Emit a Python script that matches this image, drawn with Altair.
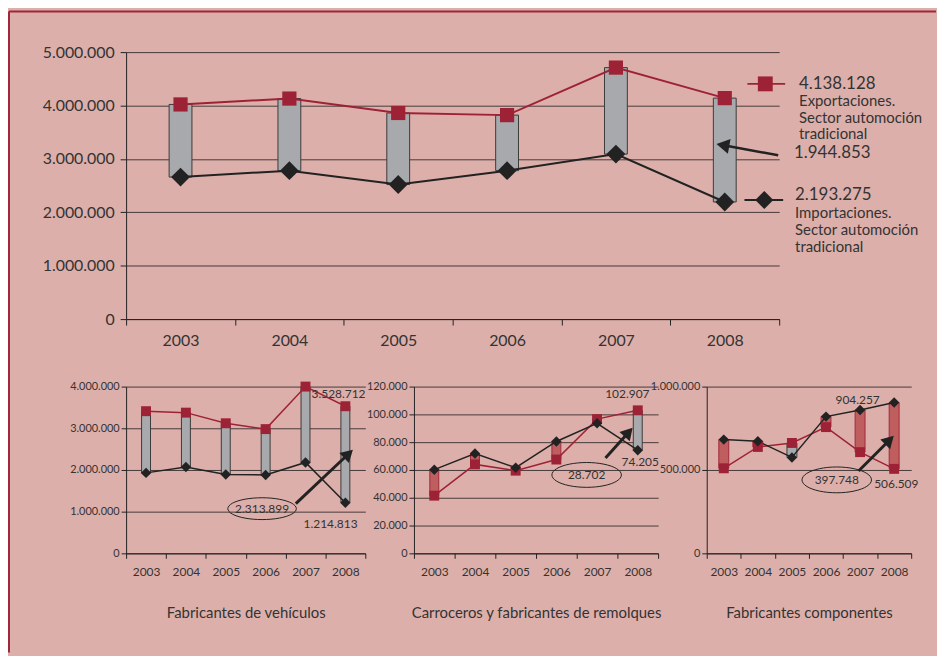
import math
import altair as alt
import pandas as pd

# ---------------- data ----------------
years = ["2003", "2004", "2005", "2006", "2007", "2008"]

total_exp = [4020000, 4130000, 3860000, 3820000, 4710000, 4138128]
total_imp = [2660000, 2780000, 2520000, 2780000, 3090000, 2193275]

veh_exp = [3410000, 3375000, 3120000, 2980000, 4000000, 3528712]
veh_imp = [1930000, 2070000, 1890000, 1880000, 2180000, 1214813]

car_exp = [41500, 64000, 59500, 67500, 96600, 102907]
car_imp = [60200, 71800, 61600, 80500, 93600, 74205]

comp_exp = [510000, 638000, 662000, 757000, 607000, 506509]
comp_imp = [682000, 672000, 575000, 820000, 860000, 904257]

panel_titles = ["Fabricantes de vehículos",
                "Carroceros y fabricantes de remolques",
                "Fabricantes componentes"]
legend_exp = ["Exportaciones.", "Sector automoción", "tradicional"]
legend_imp = ["Importaciones.", "Sector automoción", "tradicional"]

main_ticks = [0, 1000000, 2000000, 3000000, 4000000, 5000000]
veh_ticks = [0, 1000000, 2000000, 3000000, 4000000]
car_ticks = [0, 20000, 40000, 60000, 80000, 100000, 120000]
comp_ticks = [0, 500000, 1000000]

# ---------------- style ----------------
BG = "#DDAFAA"
FRAME = "#A0263A"
RED = "#9E2236"
ROSE = "#BE5E5E"
ROSE_EDGE = "#A3283A"
GRAY = "#A7A9AC"
GRAY_EDGE = "#3a3a3a"
DARK = "#222222"
TXT = "#333333"
GRID = "#463a3a"
SANS = "Lato"
DOTS = "replace(format(datum.value, ','), /,/g, '.')"

ONE = pd.DataFrame({"k": [0]})


def fmt(v):
    return f"{v:,}".replace(",", ".")


def text_layer(label, x, y, size, align="center"):
    return alt.Chart(pd.DataFrame({"t": [label]})).mark_text(
        font=SANS, fontSize=size, color=TXT, align=align, baseline="middle"
    ).encode(x=alt.value(x), y=alt.value(y), text="t:N")


def rule_layer(x1, y1, x2, y2, color, width):
    return alt.Chart(ONE).mark_rule(color=color, strokeWidth=width, strokeCap="butt").encode(
        x=alt.value(x1), y=alt.value(y1), x2=alt.value(x2), y2=alt.value(y2))


def symbol_layer(x, y, shape, size, color, angle=0, filled=True, sw=1):
    return alt.Chart(ONE).mark_point(
        shape=shape, size=size, filled=filled, color=color, opacity=1,
        angle=angle, strokeWidth=sw
    ).encode(x=alt.value(x), y=alt.value(y))


def arrow_layers(x1, y1, x2, y2, width, head):
    dx, dy = x2 - x1, y2 - y1
    ln = math.hypot(dx, dy)
    ux, uy = dx / ln, dy / ln
    h = head * math.sqrt(3) / 4
    cx, cy = x2 - ux * h, y2 - uy * h
    ang = math.degrees(math.atan2(dx, -dy)) % 360
    return [rule_layer(x1, y1, cx, cy, DARK, width),
            symbol_layer(cx, cy, "triangle", head * head, DARK, angle=ang)]


def ellipse_layers(cx, cy, w, h, label):
    ry = h / w
    pts = []
    for k in range(48):
        a = 2 * math.pi * k / 48
        pts.append(f"{math.cos(a):.4f},{ry * math.sin(a):.4f}")
    path = "M" + "L".join(pts) + "Z"
    return [symbol_layer(cx, cy, path, w * w, DARK, filled=False, sw=1),
            text_layer(label, cx, cy, 12)]


def data_layers(exp, imp, ymax, xaxis, yaxis, bar_size, sq, di, lw):
    df = pd.DataFrame({"year": years, "exp": exp, "imp": imp})
    df["fill"] = [GRAY if e >= i else ROSE for e, i in zip(exp, imp)]
    df["edge"] = [GRAY_EDGE if e >= i else ROSE_EDGE for e, i in zip(exp, imp)]
    x = alt.X("year:N", sort=years,
              scale=alt.Scale(paddingInner=0, paddingOuter=0), axis=xaxis)
    ysc = alt.Scale(domain=[0, ymax], nice=False, zero=True)
    y_imp = alt.Y("imp:Q", scale=ysc, axis=yaxis)
    y_exp = alt.Y("exp:Q", scale=ysc, axis=yaxis)
    base = alt.Chart(df)
    bars = base.mark_bar(size=bar_size, strokeWidth=1).encode(
        x=x, y=y_imp, y2="exp:Q",
        fill=alt.Fill("fill:N", scale=None),
        stroke=alt.Stroke("edge:N", scale=None))
    exp_line = base.mark_line(color=RED, strokeWidth=lw).encode(x=x, y=y_exp)
    imp_line = base.mark_line(color=DARK, strokeWidth=lw).encode(x=x, y=y_imp)
    exp_pts = base.mark_point(shape="square", filled=True, size=sq, color=RED,
                              opacity=1).encode(x=x, y=y_exp)
    imp_pts = base.mark_point(shape="diamond", filled=True, size=di, color=DARK,
                              opacity=1).encode(x=x, y=y_imp)
    return [bars, exp_line, imp_line, exp_pts, imp_pts]


# ---------------- main chart ----------------
main_x = alt.Axis(title=None, labelFont=SANS, labelFontSize=16, labelColor=TXT,
                  labelPadding=8, tickSize=6, tickColor=DARK, tickBand="extent",
                  domainColor=DARK, grid=False, labelAngle=0)
main_y = alt.Axis(title=None, values=main_ticks, labelExpr=DOTS, labelFont=SANS,
                  labelFontSize=16, labelColor=TXT, labelPadding=6, tickSize=6,
                  tickColor=DARK, domainColor=DARK, grid=True, gridColor=GRID,
                  gridWidth=1, labelOverlap=False)

main_layers = data_layers(total_exp, total_imp, 5000000, main_x, main_y, 23, 205, 361, 2)
main_layers += [
    # frame
    rule_layer(-118, -41, 816, -41, FRAME, 2),
    rule_layer(-118, -41, -118, 605, FRAME, 2),
    # legend
    rule_layer(626, 32, 664, 32, RED, 2),
    symbol_layer(644, 32, "square", 225, RED),
    rule_layer(623, 149, 662, 149, DARK, 2),
    symbol_layer(643, 149, "diamond", 330, DARK),
    text_layer(fmt(total_exp[-1]), 678, 32, 17, align="left"),
    text_layer(legend_exp[0], 678, 49, 15, align="left"),
    text_layer(legend_exp[1], 678, 66, 15, align="left"),
    text_layer(legend_exp[2], 678, 83, 15, align="left"),
    text_layer(fmt(total_imp[-1]), 674, 144, 17, align="left"),
    text_layer(legend_imp[0], 674, 162, 15, align="left"),
    text_layer(legend_imp[1], 674, 179, 15, align="left"),
    text_layer(legend_imp[2], 674, 196, 15, align="left"),
    text_layer(fmt(total_exp[-1] - total_imp[-1]), 673, 102, 17, align="left"),
]
main_layers += arrow_layers(657, 104, 597, 93, 2.5, 15)
main = alt.layer(*main_layers).properties(width=658, height=269)


# ---------------- small panels ----------------
def small_x(title):
    return alt.Axis(title=title, titleFont=SANS, titleFontSize=15,
                    titleFontWeight="normal", titleColor=TXT, titlePadding=29,
                    labelFont=SANS, labelFontSize=12, labelColor=TXT, labelPadding=8,
                    tickSize=5, tickColor=DARK, tickBand="extent", domainColor=DARK,
                    grid=False, labelAngle=0)


def small_y(ticks):
    return alt.Axis(title=None, values=ticks, labelExpr=DOTS, labelFont=SANS,
                    labelFontSize=11, labelColor=TXT, labelPadding=2, tickSize=5,
                    tickColor=DARK, domainColor=DARK, grid=True, gridColor=GRID,
                    gridWidth=1, labelOverlap=False)


p1_layers = data_layers(veh_exp, veh_imp, 4000000, small_x(panel_titles[0]),
                        small_y(veh_ticks), 9, 100, 110, 1.5)
p1_layers += [text_layer(fmt(veh_exp[-1]), 214, 8, 12),
              text_layer(fmt(veh_imp[-1]), 206, 138, 12)]
p1_layers += ellipse_layers(137, 123, 69, 22, fmt(veh_exp[-1] - veh_imp[-1]))
p1_layers += arrow_layers(171, 118, 227, 65, 3, 14)
p1 = alt.layer(*p1_layers).properties(width=241, height=168)

p2_layers = data_layers(car_exp, car_imp, 120000, small_x(panel_titles[1]),
                        small_y(car_ticks), 9, 100, 110, 1.5)
p2_layers += [text_layer(fmt(car_exp[-1]), 215, 8, 12),
              text_layer(fmt(car_imp[-1]), 228, 76, 12)]
p2_layers += ellipse_layers(174, 89, 70, 25, fmt(car_exp[-1] - car_imp[-1]))
p2_layers += arrow_layers(193, 72, 219, 43, 3, 14)
p2 = alt.layer(*p2_layers).properties(width=246, height=168)

p3_layers = data_layers(comp_exp, comp_imp, 1000000, small_x(panel_titles[2]),
                        small_y(comp_ticks), 10, 100, 110, 1.5)
p3_layers += [text_layer(fmt(comp_imp[-1]), 152, 14, 12),
              text_layer(fmt(comp_exp[-1]), 191, 98, 12)]
p3_layers += ellipse_layers(131, 94, 70, 26, fmt(comp_imp[-1] - comp_exp[-1]))
p3_layers += arrow_layers(153, 85, 187, 51, 3, 14)
p3 = alt.layer(*p3_layers).properties(width=206, height=168)

bottom = alt.hconcat(p1, p2, p3, spacing=49, bounds="flush")

chart = alt.vconcat(main, bottom, spacing=68, bounds="flush").properties(
    padding=0, background=BG
).configure_view(stroke=None).configure_axis(labelOverlap=False)

chart.save("out.html", embed_options={"renderer": "svg", "actions": False})
